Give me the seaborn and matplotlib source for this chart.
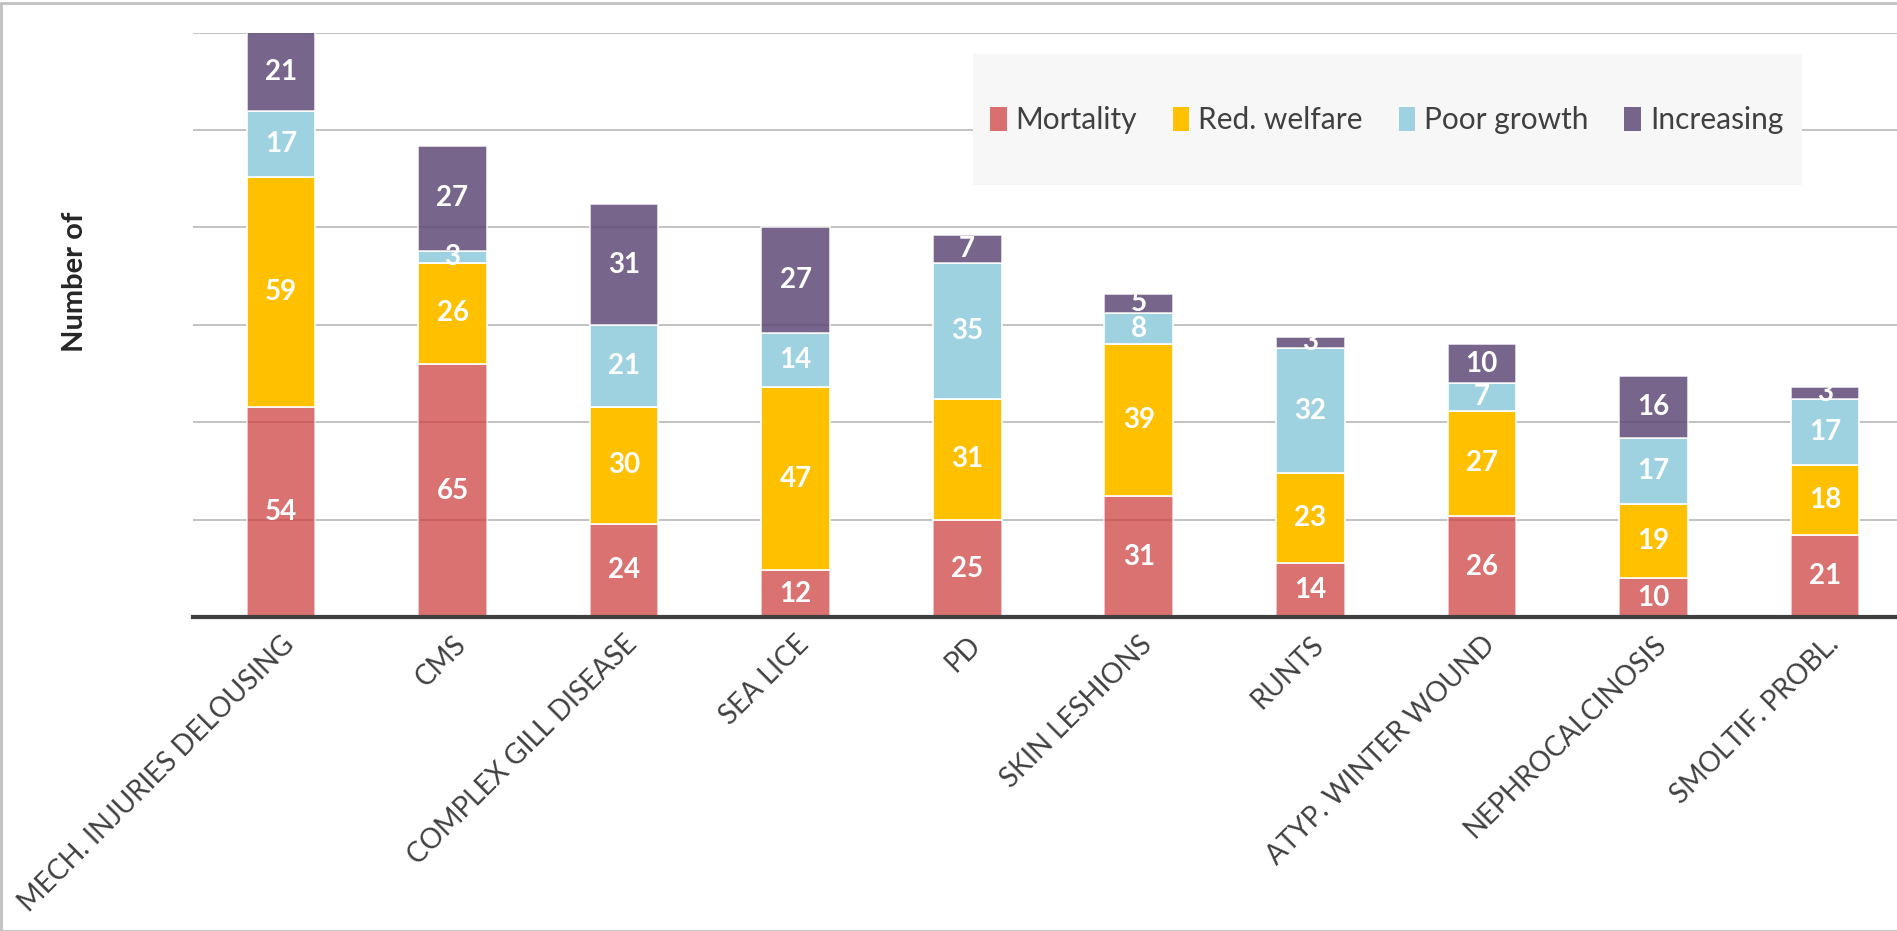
import numpy as np
import pandas as pd
import matplotlib
matplotlib.use('Agg')
import matplotlib.pyplot as plt
from matplotlib.patches import Rectangle, Patch
import seaborn as sns

categories = ['MECH. INJURIES DELOUSING', 'CMS', 'COMPLEX GILL DISEASE', 'SEA LICE', 'PD',
              'SKIN LESHIONS', 'RUNTS', 'ATYP. WINTER WOUND', 'NEPHROCALCINOSIS', 'SMOLTIF. PROBL.']
mortality = [54, 65, 24, 12, 25, 31, 14, 26, 10, 21]
red_welfare = [59, 26, 30, 47, 31, 39, 23, 27, 19, 18]
poor_growth = [17, 3, 21, 14, 35, 8, 32, 7, 17, 17]
increasing = [21, 27, 31, 27, 7, 5, 3, 10, 16, 3]
series_names = ['Mortality', 'Red. welfare', 'Poor growth', 'Increasing']

# colour + alpha per series (red and purple are a bit see-through in the original)
styles = {
    'Mortality': ('#CD3636', 0.7),
    'Red. welfare': ('#FFC000', 1.0),
    'Poor growth': ('#9FD2E0', 1.0),
    'Increasing': ('#5F4A78', 0.85),
}

df = pd.DataFrame({'Category': categories, 'Mortality': mortality, 'Red. welfare': red_welfare,
                   'Poor growth': poor_growth, 'Increasing': increasing})

sns.set_style('white')
plt.rcParams['font.family'] = ['Lato', 'DejaVu Sans']

fig = plt.figure(figsize=(18.97, 9.31), dpi=100)
ax = fig.add_axes([0.102, 0.337, 0.898, 0.628])

bottom = np.zeros(len(categories))
for name in series_names:
    color, alpha = styles[name]
    vals = df[name].to_numpy(dtype=float)
    sns.barplot(data=df, x='Category', y=name, order=categories, color=color, alpha=alpha,
                saturation=1, width=0.4, bottom=bottom.copy(), edgecolor='white', linewidth=1.2,
                errorbar=None, ax=ax, zorder=2)
    cont = ax.containers[-1]
    ax.bar_label(cont, labels=[str(int(v)) for v in vals], label_type='center',
                 color='white', fontsize=20, fontweight='bold', zorder=5)
    bottom += vals

ax.set_ylim(0, 150)
ax.set_xlim(-0.51, 9.42)
ax.set_yticks([25, 50, 75, 100, 125, 150])
ax.set_yticklabels([])
ax.yaxis.grid(True, color='#bdbdbd', linewidth=1.3, zorder=0)
ax.set_axisbelow(True)
ax.tick_params(axis='both', length=0)
for s in ['top', 'right', 'left']:
    ax.spines[s].set_visible(False)
ax.spines['bottom'].set_color('#404040')
ax.spines['bottom'].set_linewidth(3)

ax.set_xlabel('')
ax.set_ylabel('')
ax.set_xticks(range(len(categories)))
ax.set_xticklabels(categories, rotation=45, ha='right', rotation_mode='anchor',
                   fontsize=20, color='#404040')
ax.tick_params(axis='x', pad=10)

fig.text(0.0395, 0.697, 'Number of', rotation=90, fontsize=21, fontweight='bold',
         color='#262626', ha='center', va='center')

# legend background box
bg = Rectangle((0.513, 0.801), 0.437, 0.141, transform=fig.transFigure,
               facecolor='#f7f7f7', edgecolor='none', zorder=3)
fig.patches.append(bg)
handles = [Patch(facecolor=styles[n][0], alpha=styles[n][1], edgecolor='none') for n in series_names]
leg = fig.legend(handles, series_names, loc='center', bbox_to_anchor=(0.731, 0.871), ncol=4,
                 frameon=False, fontsize=21.5, labelcolor='#404040', handlelength=0.55,
                 handleheight=0.85, handletextpad=0.3, columnspacing=1.2)

# light frame around the chart area
fig.patches.append(Rectangle((0.0005, 0), 1.2, 0.997, transform=fig.transFigure,
                             facecolor='none', edgecolor='#c0c0c0', linewidth=2))

fig.savefig('out.png', dpi=100)
